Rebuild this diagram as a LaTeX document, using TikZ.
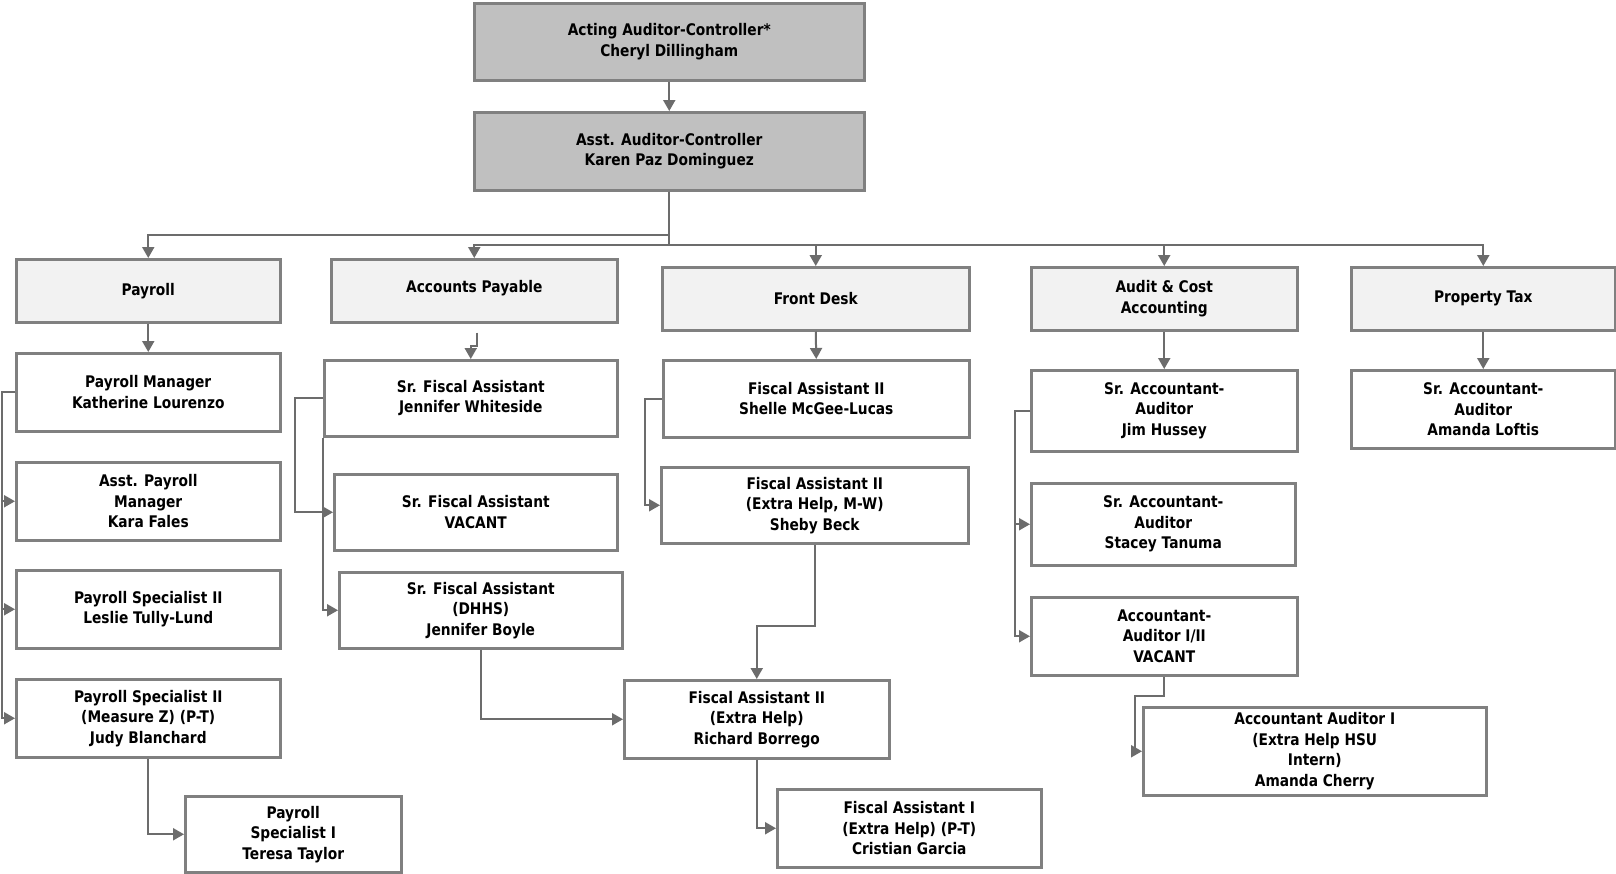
\documentclass[tikz,border=0pt]{standalone}
\usepackage{fontspec}
\usetikzlibrary{arrows.meta}
\newfontfamily\dvfont[FakeStretch=0.86]{DejaVu Sans}
\definecolor{bcol}{RGB}{128,128,128}
\definecolor{lcol}{RGB}{108,108,108}
\definecolor{topfill}{RGB}{192,192,192}
\definecolor{deptfill}{RGB}{242,242,242}
\tikzset{
  box/.style={draw=bcol, line width=2.5pt, fill=white, align=center,
    font={\dvfont\bfseries\fontsize{16}{20.5}\selectfont}, inner sep=0pt, anchor=north west},
  topbox/.style={box, fill=topfill},
  deptbox/.style={box, fill=deptfill},
  conn/.style={draw=lcol, line width=2pt},
  arr/.style={conn, -{Triangle[length=11pt,width=12pt]}},
}
\begin{document}
\begin{tikzpicture}[x=1pt,y=-1pt]
\useasboundingbox (0,0) rectangle (1616,873);
\fill[white] (0,0) rectangle (1616,873);
% top
\node[topbox, minimum width=390pt, minimum height=77pt] (top) at (473,2) {Acting Auditor-Controller*\\Cheryl Dillingham};
\node[topbox, minimum width=390pt, minimum height=78pt] (asst) at (473,111) {Asst. Auditor-Controller\\Karen Paz Dominguez};
% departments
\node[deptbox, minimum width=264pt, minimum height=63pt] (payroll) at (15,258) {Payroll};
\node[deptbox, minimum width=286pt, minimum height=63pt] (ap) at (330,258) {\raisebox{8pt}{Accounts Payable}};
\node[deptbox, minimum width=307pt, minimum height=63pt] (fd) at (661,266) {Front Desk};
\node[deptbox, minimum width=266pt, minimum height=63pt] (audit) at (1030,266) {Audit \& Cost\\Accounting};
\node[deptbox, minimum width=264pt, minimum height=63pt] (ptax) at (1350,266) {Property Tax};
% payroll column
\node[box, minimum width=264pt, minimum height=78pt] (pm) at (15,352) {Payroll Manager\\Katherine Lourenzo};
\node[box, minimum width=264pt, minimum height=78pt] (apm) at (15,461) {Asst. Payroll\\Manager\\Kara Fales};
\node[box, minimum width=264pt, minimum height=78pt] (leslie) at (15,569) {Payroll Specialist II\\Leslie Tully-Lund};
\node[box, minimum width=264pt, minimum height=78pt] (judy) at (15,678) {Payroll Specialist II\\(Measure Z) (P-T)\\Judy Blanchard};
\node[box, minimum width=216pt, minimum height=76pt] (teresa) at (184,795) {Payroll\\Specialist I\\Teresa Taylor};
% accounts payable column
\node[box, minimum width=293pt, minimum height=76pt] (wh) at (323,359) {Sr. Fiscal Assistant\\Jennifer Whiteside};
\node[box, minimum width=283pt, minimum height=76pt] (vac) at (333,473) {Sr. Fiscal Assistant\\VACANT};
\node[box, minimum width=283pt, minimum height=76pt] (boyle) at (338,571) {Sr. Fiscal Assistant\\(DHHS)\\Jennifer Boyle};
% front desk column
\node[box, minimum width=306pt, minimum height=77pt] (shelle) at (662,359) {Fiscal Assistant II\\Shelle McGee-Lucas};
\node[box, minimum width=307pt, minimum height=76pt] (sheby) at (660,466) {Fiscal Assistant II\\(Extra Help, M-W)\\Sheby Beck};
\node[box, minimum width=265pt, minimum height=78pt] (richard) at (623,679) {Fiscal Assistant II\\(Extra Help)\\Richard Borrego};
\node[box, minimum width=264pt, minimum height=78pt] (cristian) at (776,788) {Fiscal Assistant I\\(Extra Help) (P-T)\\Cristian Garcia};
% audit column
\node[box, minimum width=266pt, minimum height=81pt] (jim) at (1030,369) {Sr. Accountant-\\Auditor\\Jim Hussey};
\node[box, minimum width=264pt, minimum height=82pt] (stacey) at (1030,482) {Sr. Accountant-\\Auditor\\Stacey Tanuma};
\node[box, minimum width=266pt, minimum height=78pt] (aavac) at (1030,596) {Accountant-\\Auditor I/II\\VACANT};
\node[box, minimum width=343pt, minimum height=88pt] (cherry) at (1142,706) {Accountant Auditor I\\(Extra Help HSU\\Intern)\\Amanda Cherry};
% property tax
\node[box, minimum width=264pt, minimum height=78pt] (loftis) at (1350,369) {Sr. Accountant-\\Auditor\\Amanda Loftis};
% connectors
\draw[arr] (top.south) -- (asst.north);
\draw[arr] (asst.south) -- ++(0,43) -| (payroll.north);
\draw[arr] (asst.south) -- ++(0,53) -| (ap.north);
\draw[arr] (asst.south) -- ++(0,53) -| (fd.north);
\draw[arr] (asst.south) -- ++(0,53) -| (audit.north);
\draw[arr] (asst.south) -- ++(0,53) -| (ptax.north);
% payroll
\draw[arr] (payroll.south) -- (pm.north);
\draw[arr] (pm.west) -- ++(-13,0) |- (apm.west);
\draw[arr] (pm.west) -- ++(-13,0) |- (leslie.west);
\draw[arr] (pm.west) -- ++(-13,0) |- (judy.west);
\draw[arr] (judy.south) |- (teresa.west);
% accounts payable
\draw[arr] ([xshift=3pt,yshift=-9pt]ap.south) -- ++(0,13) -| (wh.north);
\draw[arr] (wh.west) -- ++(-28,0) |- (vac.west);
\draw[arr] (wh.south west) |- (boyle.west);
\draw[arr] (boyle.south) |- (richard.west);
% front desk
\draw[arr] (fd.south) -- (shelle.north);
\draw[arr] (shelle.west) -- ++(-17,0) |- (sheby.west);
\draw[arr] (sheby.south) -- ++(0,81) -| (richard.north);
\draw[arr] (richard.south) |- (cristian.west);
% audit
\draw[arr] (audit.south) -- (jim.north);
\draw[arr] (jim.west) -- ++(-15,0) |- (stacey.west);
\draw[arr] (jim.west) -- ++(-15,0) |- (aavac.west);
\draw[arr] (aavac.south) -- ++(0,19) -- ++(-29,0) |- (cherry.west);
% property tax
\draw[arr] (ptax.south) -- (loftis.north);
\end{tikzpicture}
\end{document}
